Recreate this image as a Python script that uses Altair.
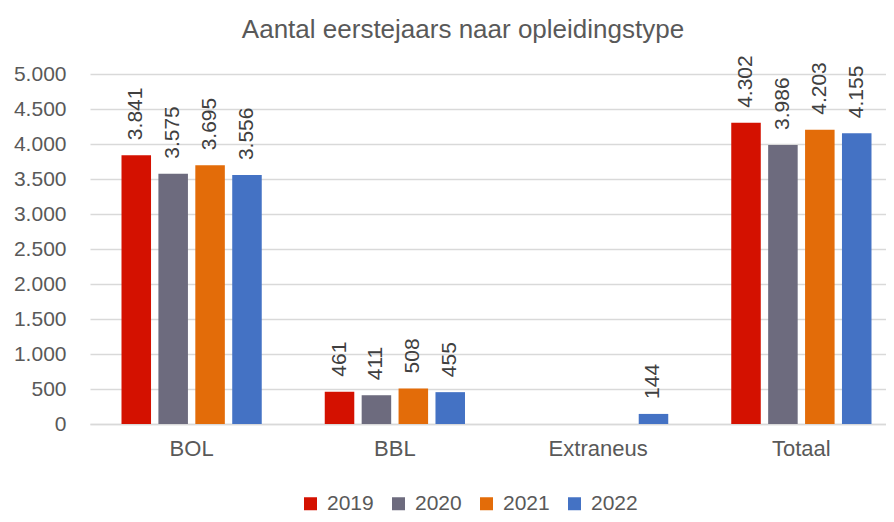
import altair as alt
import pandas as pd

categories = ["BOL", "BBL", "Extraneus", "Totaal"]
years = ["2019", "2020", "2021", "2022"]
values_2019 = [3841, 461, None, 4302]
values_2020 = [3575, 411, None, 3986]
values_2021 = [3695, 508, None, 4203]
values_2022 = [3556, 455, 144, 4155]
colors = ["#D41100", "#6D6B7E", "#E36C09", "#4472C4"]
y_ticks = [0, 500, 1000, 1500, 2000, 2500, 3000, 3500, 4000, 4500, 5000]

rows = []
for y, vals in zip(years, [values_2019, values_2020, values_2021, values_2022]):
    for c, v in zip(categories, vals):
        if v is not None:
            rows.append({"cat": c, "year": y, "value": v})
df = pd.DataFrame(rows)

FONT = "Liberation Sans"

base = alt.Chart(df).encode(
    x=alt.X("cat:N", sort=categories,
            scale=alt.Scale(paddingInner=0.31, paddingOuter=0.155, range=[0, 813]),
            axis=alt.Axis(title=None, labelAngle=0, labelFontSize=22, labelColor="#595959",
                          labelFont=FONT, labelPadding=14, ticks=False,
                          domainColor="#d9d9d9", domainWidth=1.5)),
    xOffset=alt.XOffset("year:N", sort=years, scale=alt.Scale(paddingInner=0.2, paddingOuter=0)),
    y=alt.Y("value:Q", scale=alt.Scale(domain=[0, 5000], nice=False),
            axis=alt.Axis(title=None, values=y_ticks, tickCount=11,
                          labelExpr="replace(format(datum.value, ','), ',', '.')",
                          labelFontSize=21, labelColor="#595959", labelFont=FONT,
                          labelPadding=24, ticks=False, domain=False, labelOverlap=False,
                          gridColor="#d9d9d9", gridWidth=1.5)),
)

bars = base.mark_bar().encode(
    color=alt.Color("year:N", sort=years, scale=alt.Scale(domain=years, range=colors),
                    legend=alt.Legend(title=None, orient="none", direction="horizontal",
                                      legendX=210, legendY=419, symbolType="square",
                                      symbolSize=169, symbolStrokeWidth=0,
                                      labelFontSize=21, labelColor="#595959", labelFont=FONT,
                                      labelOffset=6, columnPadding=14)),
)

labels = base.transform_calculate(
    lab="replace(format(datum.value, ','), ',', '.')"
).mark_text(angle=270, align="left", baseline="middle", dx=15, fontSize=21,
            color="#404040", font=FONT).encode(
    text="lab:N",
)

chart = (bars + labels).properties(
    width=796, height=350,
    title=alt.TitleParams("Aantal eerstejaars naar opleidingstype", fontSize=26,
                          font=FONT, fontWeight="normal", color="#595959",
                          anchor="middle", dx=-25, offset=12),
    autosize=alt.AutoSizeParams(type="none"),
    padding={"left": 82, "top": 66, "right": 0, "bottom": 90},
).configure_view(stroke=None)

chart.save("out.html", embed_options={"renderer": "svg", "actions": False})
